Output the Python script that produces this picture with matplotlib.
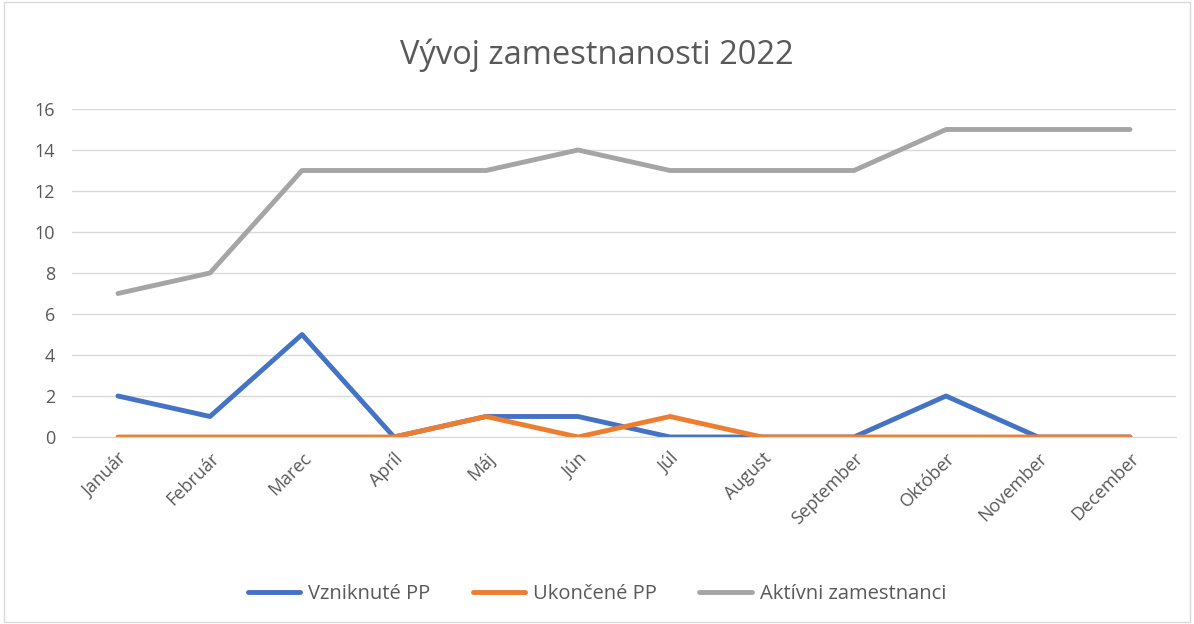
import matplotlib.pyplot as plt
from matplotlib.patches import Rectangle

mesiace = ['Január', 'Február', 'Marec', 'Apríl', 'Máj', 'Jún', 'Júl',
           'August', 'September', 'Október', 'November', 'December']
vzniknute = [2, 1, 5, 0, 1, 1, 0, 0, 0, 2, 0, 0]
ukoncene = [0, 0, 0, 0, 1, 0, 1, 0, 0, 0, 0, 0]
aktivni = [7, 8, 13, 13, 13, 14, 13, 13, 13, 15, 15, 15]

plt.rcParams['font.family'] = ['Open Sans', 'DejaVu Sans']

fig = plt.figure(figsize=(11.94, 6.24), dpi=100)
ax = fig.add_axes([72/1194, 1-437/624, (1176-72)/1194, (437-109)/624])

x = range(len(mesiace))
ax.plot(x, vzniknute, color='#4472C4', lw=3.5, label='Vzniknuté PP', solid_capstyle='round')
ax.plot(x, ukoncene, color='#ED7D31', lw=3.5, label='Ukončené PP', solid_capstyle='round')
ax.plot(x, aktivni, color='#A5A5A5', lw=3.5, label='Aktívni zamestnanci', solid_capstyle='round')

ax.set_xlim(-0.5, len(mesiace) - 0.5)
ax.set_ylim(0, 16)
ax.set_yticks(range(0, 17, 2))
ax.set_xticks(list(x))
ax.set_xticklabels(mesiace, rotation=45, ha='right', rotation_mode='anchor')
ax.tick_params(colors='#595959', labelsize=13, length=0)
ax.tick_params(axis='x', pad=9)
ax.tick_params(axis='y', pad=12)
ax.grid(axis='y', color='#D9D9D9', lw=1)
ax.set_axisbelow(True)
for s in ['top', 'right', 'left']:
    ax.spines[s].set_visible(False)
ax.spines['bottom'].set_color('#D9D9D9')

fig.text(0.5, 1-55/624, 'Vývoj zamestnanosti 2022', ha='center', va='center',
         fontsize=23.5, color='#595959')
fig.legend(loc='center', bbox_to_anchor=(0.5, 1-594/624), ncol=3, frameon=False,
           fontsize=14.5, labelcolor='#595959', handlelength=2.6, handletextpad=0.4,
           columnspacing=2.1)

fig.patches.append(Rectangle((0.003, 0.003), 0.994, 0.994, transform=fig.transFigure,
                             fill=False, edgecolor='#D9D9D9', lw=1))

plt.savefig('out.png', dpi=100)
